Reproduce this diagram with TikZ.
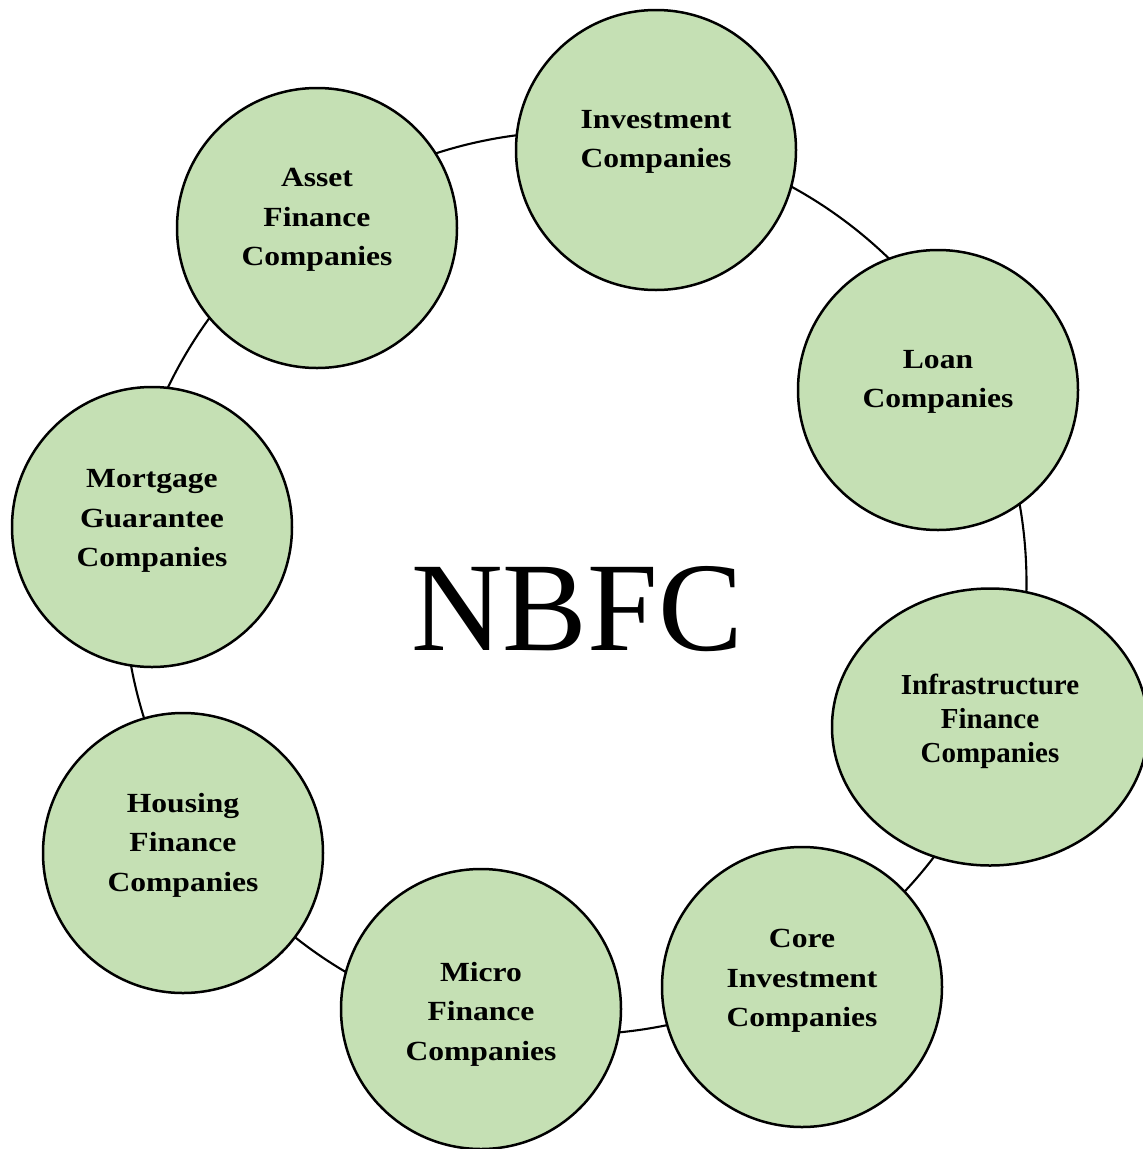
\documentclass[tikz,border=0pt]{standalone}
\usepackage{fontspec}
\setmainfont{Liberation Serif}
\newfontfamily\wideserif[FakeStretch=1.14]{Liberation Serif}
\usetikzlibrary{shapes.geometric}
\definecolor{bubblefill}{HTML}{C5E0B4}
\begin{document}
\begin{tikzpicture}[x=1pt,y=-1pt,
  ring/.style={circle,draw=black,line width=2.1pt,inner sep=0pt,minimum size=903pt},
  bubble/.style={circle,draw=black,line width=2.5pt,fill=bubblefill,inner sep=0pt,minimum size=280pt},
  oval/.style={ellipse,draw=black,line width=2.5pt,fill=bubblefill,inner sep=0pt,minimum width=316pt,minimum height=277pt},
  bubbletext/.style={align=center,inner sep=0pt,font={\wideserif\bfseries\fontsize{27.7pt}{39.5pt}\selectfont}},
  ovaltext/.style={align=center,inner sep=0pt,font={\bfseries\fontsize{29pt}{34pt}\selectfont}},
  title/.style={inner sep=0pt,anchor=base,font={\fontsize{127pt}{140pt}\selectfont}}]
\useasboundingbox (0,0) rectangle (1143,1149);
\clip (0,0) rectangle (1143,1149);

% ring joining the categories
\node[ring] (ring) at (575,583) {};

% category bubbles
\node[bubble] (inv)   at (656,150)  {};
\node[bubble] (loan)  at (938,390)  {};
\node[oval]   (infra) at (990,727)  {};
\node[bubble] (core)  at (802,987)  {};
\node[bubble] (micro) at (481,1009) {};
\node[bubble] (house) at (183,853)  {};
\node[bubble] (mort)  at (152,527)  {};
\node[bubble] (asset) at (317,228)  {};

% labels
\node[bubbletext] (inv-t)   at (656,142)  {Investment\\Companies};
\node[bubbletext] (loan-t)  at (938,382)  {Loan\\Companies};
\node[ovaltext]   (infra-t) at (990,721)  {Infrastructure\\Finance\\Companies};
\node[bubbletext] (core-t)  at (802,981)  {Core\\Investment\\Companies};
\node[bubbletext] (micro-t) at (481,1014) {Micro\\Finance\\Companies};
\node[bubbletext] (house-t) at (183,845)  {Housing\\Finance\\Companies};
\node[bubbletext] (mort-t)  at (152,521)  {Mortgage\\Guarantee\\Companies};
\node[bubbletext] (asset-t) at (317,220)  {Asset\\Finance\\Companies};

% centre title
\node[title] (nbfc) at (577,650) {NBFC};
\end{tikzpicture}
\end{document}
